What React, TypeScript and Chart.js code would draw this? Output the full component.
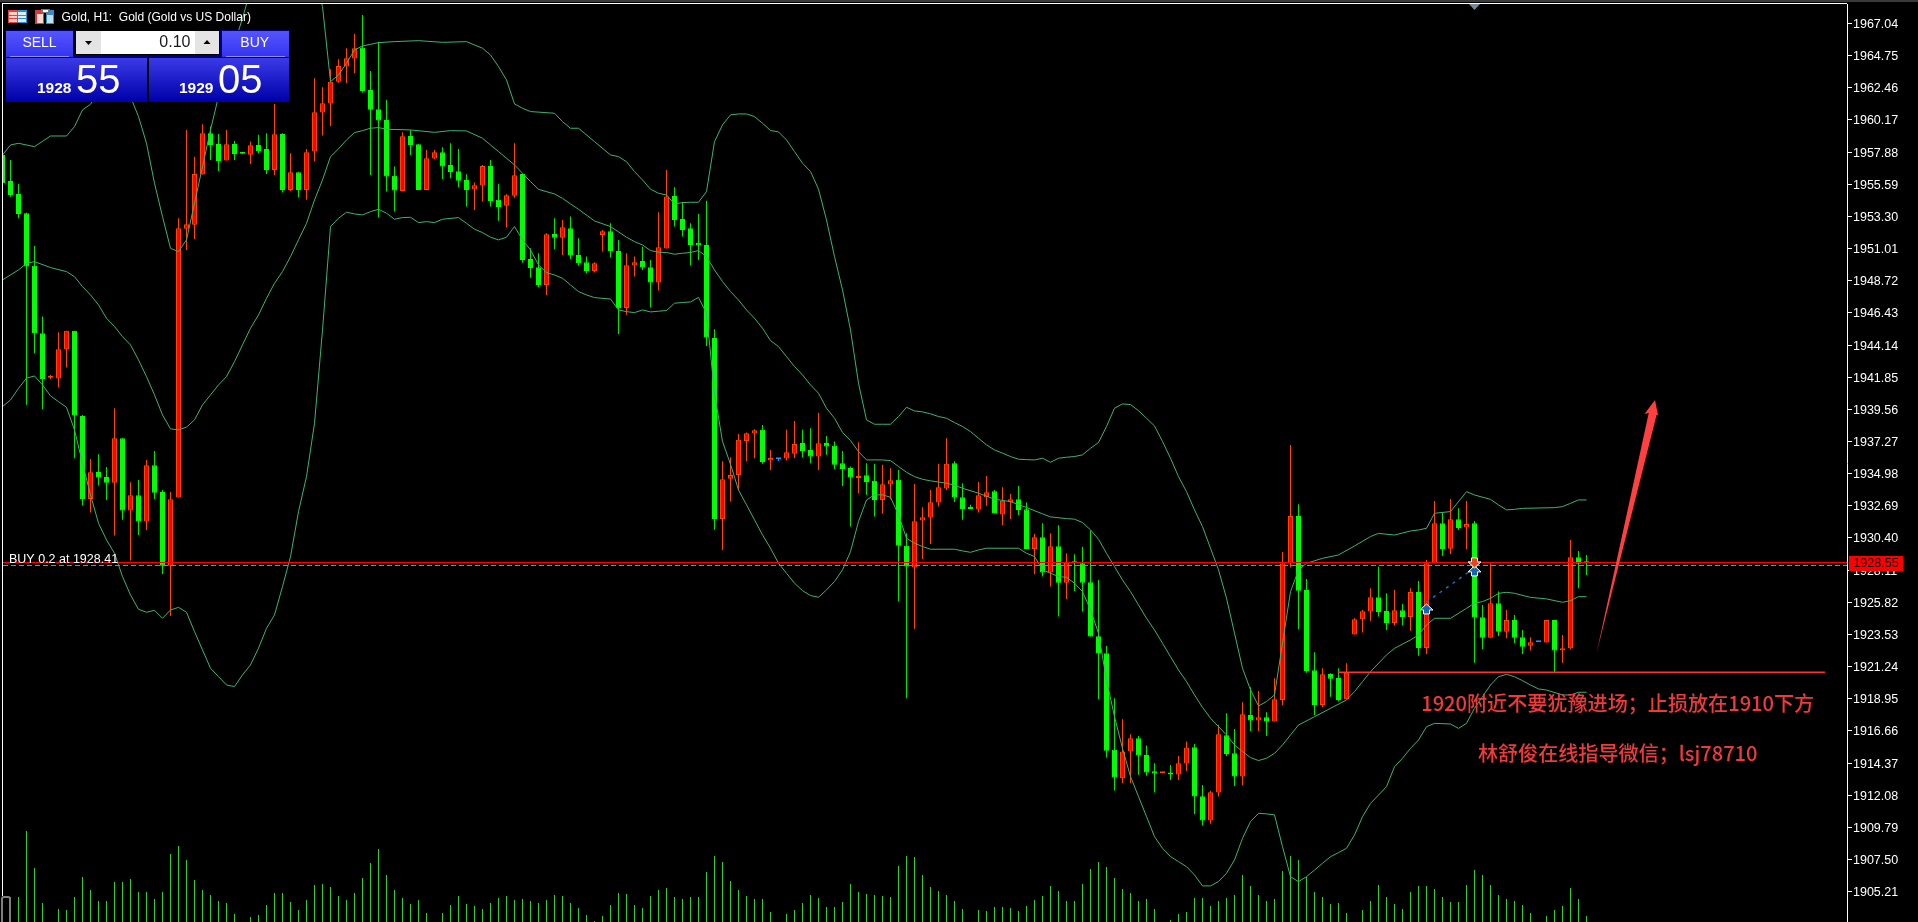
import React, { useEffect, useRef } from "react";
import { Chart, registerables } from "chart.js";

Chart.register(...registerables);

const opens = [
  1957.68,1955.83,1954.90,1953.53,1949.78,1944.98,1941.82,1941.75,1943.84,1945.15,
  1939.09,1933.18,1935.10,1934.75,1934.34,1937.50,1932.35,1933.44,1931.57,1935.58,
  1933.68,1928.43,1933.28,1952.43,1952.70,1956.28,1959.22,1958.46,1957.28,1958.46,
  1957.82,1957.70,1958.39,1958.11,1956.61,1959.18,1955.19,1956.45,1955.19,1957.92,
  1960.70,1961.34,1962.90,1963.97,1964.54,1965.33,1962.31,1960.93,1960.17,1956.19,
  1955.12,1959.03,1958.44,1955.19,1957.42,1957.87,1956.97,1956.52,1955.90,1955.21,
  1955.50,1956.90,1954.48,1954.07,1954.78,1956.33,1950.27,1949.68,1948.42,1952.05,
  1951.79,1952.46,1950.56,1950.04,1949.42,1951.98,1952.24,1950.84,1946.78,1949.80,
  1950.13,1949.68,1948.59,1951.01,1954.76,1953.12,1952.46,1951.42,1951.27,1944.65,
  1931.76,1934.61,1934.89,1937.31,1937.84,1938.10,1935.91,1936.01,1936.06,1936.39,
  1937.17,1936.67,1936.20,1937.17,1936.96,1935.72,1935.39,1934.68,1934.87,1934.47,
  1933.11,1934.20,1934.54,1929.84,1928.29,1931.64,1931.85,1932.92,1933.92,1935.72,
  1933.30,1932.57,1932.42,1933.30,1933.73,1932.07,1932.97,1933.16,1932.45,1929.62,
  1930.45,1927.94,1929.81,1927.22,1928.67,1928.60,1927.25,1923.40,1922.19,1915.31,
  1913.29,1915.19,1916.14,1914.95,1913.79,1913.64,1913.60,1913.55,1914.33,1915.50,
  1912.01,1910.27,1912.27,1916.35,1915.07,1913.41,1917.80,1917.40,1917.63,1917.33,
  1918.86,1928.60,1931.97,1926.70,1920.98,1918.51,1920.72,1920.43,1918.91,1923.52,
  1924.61,1925.16,1926.18,1925.20,1924.35,1925.25,1924.78,1926.56,1922.57,1928.60,
  1931.45,1929.64,1931.73,1931.14,1931.45,1924.75,1923.30,1925.75,1923.73,1924.56,
  1923.33,1922.73,1922.97,1922.95,1924.56,1922.38,1922.54,1929.02,1928.67,
];

const closes = [
  1955.66,1954.83,1953.48,1949.73,1944.98,1941.73,1941.92,1943.84,1945.15,1939.12,
  1933.18,1935.08,1934.70,1934.34,1937.50,1932.35,1933.44,1931.57,1935.58,1933.63,
  1928.43,1933.16,1952.46,1952.74,1956.33,1959.22,1958.39,1957.25,1958.44,1957.75,
  1957.77,1958.37,1957.94,1956.61,1959.15,1955.19,1956.45,1955.19,1957.87,1960.72,
  1961.36,1962.90,1964.02,1964.57,1965.28,1962.24,1960.89,1960.13,1956.14,1955.14,
  1959.01,1958.39,1955.19,1957.44,1957.87,1956.85,1956.47,1955.85,1955.19,1955.52,
  1956.90,1954.40,1953.98,1954.81,1956.23,1950.20,1949.63,1948.42,1952.03,1951.79,
  1952.53,1950.51,1949.97,1949.42,1949.97,1952.24,1950.84,1946.76,1949.82,1950.04,
  1949.66,1948.59,1951.11,1954.72,1953.05,1952.34,1951.27,1951.23,1944.67,1931.76,
  1934.58,1934.89,1937.39,1937.86,1938.07,1935.82,1936.10,1936.01,1936.51,1937.10,
  1936.60,1936.20,1937.15,1936.91,1935.61,1935.32,1934.70,1934.82,1934.39,1933.11,
  1934.23,1934.51,1929.84,1928.36,1931.59,1931.88,1932.95,1934.01,1935.68,1933.28,
  1932.47,1932.47,1933.44,1933.66,1932.14,1933.06,1933.16,1932.40,1929.62,1930.45,
  1927.94,1929.81,1927.22,1928.67,1928.60,1927.22,1923.38,1922.17,1915.24,1913.34,
  1915.19,1916.14,1914.90,1913.69,1913.62,1913.69,1913.55,1914.36,1915.47,1911.98,
  1910.27,1912.29,1916.42,1915.02,1913.41,1917.85,1917.40,1917.63,1917.33,1918.92,
  1928.60,1931.97,1926.65,1920.93,1918.51,1920.69,1920.38,1918.86,1920.81,1924.61,
  1925.18,1926.18,1925.13,1924.35,1925.25,1924.78,1926.56,1922.57,1928.60,1931.45,
  1929.62,1931.73,1931.11,1931.40,1924.73,1923.30,1925.75,1923.73,1924.56,1923.30,
  1922.66,1922.97,1922.97,1924.56,1922.38,1922.54,1929.02,1928.57,1928.60,
];

const highs = [
  1957.68,1957.32,1955.62,1953.57,1951.20,1946.17,1942.01,1945.05,1945.15,1945.15,
  1939.16,1936.03,1936.36,1935.46,1939.64,1937.50,1934.37,1934.53,1935.96,1936.60,
  1933.82,1933.68,1953.17,1959.46,1957.56,1959.87,1959.70,1959.18,1959.46,1958.68,
  1957.89,1958.63,1959.11,1959.22,1961.31,1959.22,1957.80,1956.45,1958.11,1963.14,
  1962.50,1963.78,1964.49,1965.28,1966.30,1967.65,1963.66,1965.75,1961.60,1956.85,
  1959.30,1959.46,1958.44,1958.04,1958.04,1958.23,1958.51,1958.11,1956.30,1955.71,
  1956.97,1957.32,1955.62,1954.88,1958.51,1956.33,1951.03,1950.68,1952.10,1953.17,
  1953.05,1953.29,1951.75,1950.44,1950.04,1952.34,1952.81,1951.63,1950.68,1950.44,
  1951.15,1950.20,1953.60,1956.61,1955.38,1954.31,1952.82,1953.48,1954.41,1945.27,
  1935.87,1936.15,1937.81,1937.91,1938.14,1938.45,1936.67,1936.03,1938.10,1938.74,
  1938.10,1938.22,1939.31,1937.67,1937.27,1936.60,1935.49,1937.22,1935.72,1935.68,
  1935.61,1935.37,1935.25,1930.74,1934.25,1932.59,1933.82,1935.68,1937.50,1935.87,
  1934.30,1932.76,1934.39,1934.82,1933.82,1934.01,1933.54,1934.11,1932.92,1930.69,
  1931.45,1930.74,1931.31,1929.31,1929.24,1929.77,1930.93,1927.41,1922.71,1918.99,
  1917.49,1916.42,1916.30,1915.62,1914.36,1913.74,1914.24,1914.88,1915.90,1915.73,
  1912.81,1912.39,1917.09,1917.92,1916.80,1918.70,1919.77,1919.51,1917.99,1920.41,
  1929.40,1937.03,1932.80,1927.48,1922.26,1921.12,1920.76,1921.12,1921.48,1924.68,
  1925.27,1926.82,1928.36,1926.46,1926.70,1925.70,1926.82,1927.34,1928.83,1933.04,
  1932.23,1933.18,1932.51,1933.04,1931.61,1925.63,1928.60,1926.58,1925.27,1924.92,
  1923.85,1923.33,1922.97,1924.56,1924.56,1923.49,1930.26,1929.48,1929.19,
];

const lows = [
  1955.66,1954.71,1953.17,1939.88,1943.56,1939.57,1941.73,1941.11,1942.54,1936.08,
  1932.71,1932.21,1934.13,1933.11,1930.57,1931.69,1928.79,1930.62,1930.97,1933.18,
  1927.84,1924.85,1933.28,1950.91,1951.70,1956.28,1957.32,1956.54,1957.28,1957.32,
  1957.75,1957.04,1957.80,1956.33,1956.26,1955.00,1955.09,1954.67,1954.48,1957.21,
  1959.06,1959.75,1962.83,1962.78,1963.50,1962.12,1956.26,1953.22,1955.07,1953.65,
  1955.07,1957.68,1955.19,1955.19,1957.37,1955.97,1956.02,1955.38,1954.00,1953.76,
  1954.36,1954.00,1953.00,1952.51,1954.64,1950.01,1948.94,1948.26,1947.71,1950.96,
  1950.56,1950.27,1949.78,1949.25,1949.30,1950.80,1950.37,1944.93,1946.29,1949.02,
  1949.49,1946.81,1948.02,1951.01,1952.58,1951.87,1949.80,1950.20,1944.08,1930.98,
  1929.55,1932.99,1933.82,1935.89,1936.08,1935.68,1935.25,1935.89,1935.91,1936.10,
  1936.13,1935.72,1935.25,1936.32,1935.32,1934.11,1931.21,1933.59,1933.47,1931.93,
  1932.12,1933.16,1925.87,1918.99,1923.93,1928.91,1929.98,1932.64,1933.82,1932.97,
  1931.69,1932.47,1932.21,1932.69,1932.14,1931.33,1931.76,1932.04,1929.62,1927.84,
  1927.65,1926.94,1924.80,1926.06,1926.63,1925.16,1923.38,1918.92,1914.76,1912.41,
  1912.93,1912.93,1913.53,1913.46,1912.27,1913.64,1913.17,1913.17,1913.81,1910.75,
  1909.92,1910.04,1911.98,1914.88,1912.74,1912.81,1916.66,1916.66,1916.30,1917.33,
  1918.51,1928.29,1923.92,1920.81,1917.80,1918.34,1919.10,1918.75,1918.91,1923.52,
  1923.66,1924.51,1924.80,1923.85,1924.16,1924.18,1923.80,1922.02,1922.14,1928.60,
  1929.14,1929.26,1930.97,1929.62,1921.52,1922.50,1923.30,1923.42,1923.26,1922.90,
  1922.14,1922.38,1922.97,1922.95,1920.83,1921.52,1922.47,1926.82,1927.77,
];

const volumes = [
  0,250,250,910,540,190,0,130,120,250,
  450,320,210,210,400,400,430,300,300,230,
  300,680,760,620,420,320,270,210,190,80,
  0,50,70,170,290,290,200,120,220,370,
  380,350,260,220,290,440,590,730,470,320,
  240,180,220,90,0,90,170,260,180,160,
  130,190,240,260,220,230,210,190,220,270,
  260,190,140,70,10,60,170,290,280,170,
  140,260,320,340,250,230,250,250,500,660,
  600,410,320,260,230,230,100,0,80,120,
  190,270,240,150,150,200,380,300,280,270,
  260,250,560,660,650,470,350,310,270,210,
  130,0,120,110,150,150,140,110,160,220,
  260,360,310,210,210,380,530,600,550,440,
  330,290,210,230,130,0,20,80,100,240,
  240,160,210,240,270,470,360,270,210,230,
  510,660,620,450,300,250,180,190,90,0,
  120,210,370,250,180,130,300,360,360,330,
  250,200,200,370,520,470,370,270,230,210,
  170,90,0,60,120,160,340,230,60,
];

const upperBand = [
  [0,1957.68],[1,1958.39],[2,1958.51],[4,1958.27],[6,1959.03],[8,1959.03],[9,1959.7],[10,1960.89],[11,1961.29],[13,1963.02],
  [16,1961.83],[17,1960.41],[18,1958.51],[19,1955.66],[20,1953.29],[21,1951.03],[22,1950.79],[23,1951.63],[24,1954.24],[25,1956.85],
  [26,1959.46],[27,1961.84],[28,1963.85],[29,1965.63],[30,1967.41],[31,1969.43],[35,1975],[38,1975],[39,1970.14],[40,1968.25],
  [41,1962.9],[42,1963.38],[43,1964.21],[44,1965.16],[45,1965.44],[46,1965.56],[47,1965.68],[49,1965.75],[52,1965.82],[55,1965.7],
  [58,1965.75],[60,1965.28],[61,1964.8],[62,1963.97],[63,1963.02],[64,1961.31],[65,1961.0],[66,1960.77],[69,1960.65],[70,1960.05],
  [71,1959.58],[72,1959.58],[74,1958.63],[76,1957.68],[77,1957.56],[78,1957.2],[79,1956.49],[80,1955.9],[81,1955.24],[82,1954.95],
  [83,1954.83],[84,1954.19],[85,1954.29],[86,1954.31],[87,1954.31],[88,1955.07],[89,1958.63],[90,1959.82],[91,1960.53],[92,1960.6],
  [93,1960.6],[94,1960.41],[95,1959.94],[96,1959.42],[97,1959.32],[98,1958.75],[99,1957.92],[100,1957.09],[101,1956.5],[102,1955.24],
  [103,1953.05],[104,1950.44],[105,1948.07],[106,1945.22],[107,1941.42],[108,1938.81],[109,1938.5],[110,1938.5],[111,1938.5],[112,1939.05],
  [113,1939.71],[114,1939.45],[115,1939.38],[116,1939.24],[117,1939.05],[118,1938.93],[119,1938.62],[120,1938.34],[121,1937.98],[122,1937.5],
  [123,1937.03],[124,1936.67],[125,1936.44],[126,1936.2],[127,1936.01],[128,1935.98],[129,1935.96],[130,1936.08],[131,1935.79],[132,1936.08],
  [133,1936.15],[134,1936.2],[135,1936.32],[136,1936.79],[137,1937.2],[138,1938.34],[139,1939.64],[140,1939.95],[141,1939.9],[142,1939.47],
  [143,1938.93],[144,1938.38],[145,1937.27],[146,1936.08],[147,1934.77],[148,1933.7],[149,1932.4],[150,1931.21],[151,1929.67],[152,1928.13],
  [153,1926.11],[154,1923.62],[155,1921.12],[156,1919.58],[157,1918.44],[158,1918.75],[159,1919.22],[160,1922.9],[161,1926.58],[162,1928.12],
  [163,1928.6],[165,1928.95],[167,1929.19],[169,1929.83],[171,1930.5],[172,1930.73],[174,1930.61],[176,1930.9],[177,1930.97],[178,1931.09],
  [179,1932.16],[181,1932.28],[183,1933.7],[184,1933.46],[186,1933.15],[187,1932.75],[188,1932.4],[189,1932.44],[190,1932.51],[194,1932.56],
  [195,1932.63],[196,1932.87],[197,1933.11],[198,1933.11],
];

const middleBand = [
  [0,1948.78],[2,1949.49],[3,1949.96],[4,1950.08],[6,1949.66],[8,1949.37],[9,1949.01],[10,1948.3],[11,1947.71],[12,1947.0],
  [13,1946.05],[14,1945.46],[15,1944.74],[16,1944.15],[17,1943.08],[18,1941.89],[19,1940.59],[20,1939.16],[21,1938.17],[22,1938.1],
  [23,1938.29],[24,1938.81],[25,1939.88],[26,1940.59],[27,1941.3],[28,1941.89],[29,1942.96],[30,1944.15],[31,1945.34],[32,1946.28],
  [33,1947.47],[34,1948.54],[35,1949.37],[36,1950.44],[37,1951.63],[38,1952.81],[39,1954.47],[40,1955.9],[41,1957.56],[42,1958.11],
  [43,1958.75],[44,1959.27],[45,1959.41],[46,1959.58],[47,1959.63],[48,1959.51],[51,1959.46],[54,1959.29],[56,1959.41],[58,1959.39],
  [60,1958.87],[61,1958.39],[62,1957.92],[64,1956.97],[66,1955.78],[67,1955.23],[69,1954.9],[70,1954.59],[71,1954.19],[72,1953.81],
  [74,1952.98],[76,1952.58],[78,1951.82],[79,1951.51],[80,1951.27],[81,1950.87],[82,1950.75],[83,1950.73],[84,1950.61],[85,1950.68],
  [86,1950.73],[87,1950.87],[88,1950.44],[89,1949.49],[90,1948.66],[91,1947.95],[92,1947.35],[93,1946.64],[94,1946.05],[95,1945.34],
  [96,1944.46],[97,1944.03],[98,1943.32],[99,1942.61],[100,1942.01],[101,1941.3],[102,1940.71],[103,1939.64],[104,1938.93],[105,1937.91],
  [106,1937.34],[107,1936.55],[108,1935.96],[110,1935.96],[111,1935.91],[112,1935.49],[113,1935.08],[114,1934.77],[115,1934.58],[116,1934.47],
  [118,1934.3],[119,1934.16],[120,1933.94],[122,1933.59],[124,1933.16],[126,1932.99],[128,1932.57],[130,1932.12],[131,1931.9],[133,1931.78],
  [134,1931.74],[135,1931.5],[136,1930.98],[137,1930.31],[138,1929.31],[139,1928.36],[140,1927.41],[141,1926.58],[142,1925.63],[143,1924.68],
  [144,1923.85],[145,1922.9],[146,1921.95],[147,1921.0],[148,1920.17],[149,1919.22],[150,1918.34],[151,1917.56],[152,1916.97],[153,1916.37],
  [154,1915.66],[155,1915.19],[156,1914.76],[157,1914.55],[158,1914.71],[159,1915.06],[160,1915.66],[161,1916.37],[162,1917.08],[164,1917.67],
  [166,1918.27],[168,1918.86],[169,1919.46],[170,1920.17],[171,1920.88],[173,1922.07],[174,1922.54],[176,1923.14],[177,1923.49],[178,1924.2],
  [179,1924.68],[181,1924.68],[183,1925.39],[184,1925.75],[185,1925.87],[186,1926.1],[187,1926.46],[188,1926.53],[189,1926.46],[191,1926.17],
  [193,1926.06],[195,1925.82],[196,1925.94],[197,1926.22],[198,1926.22],
];

const lowerBand = [
  [0,1939.76],[1,1940.23],[2,1941.06],[3,1941.78],[4,1941.94],[5,1941.3],[6,1940.52],[7,1940.11],[8,1939.71],[9,1938.1],
  [10,1935.72],[11,1933.47],[12,1931.45],[13,1930.26],[14,1929.31],[15,1927.65],[16,1926.34],[17,1925.32],[18,1925.11],[19,1925.25],
  [20,1924.68],[21,1925.27],[22,1925.46],[23,1925.11],[24,1923.73],[25,1922.43],[26,1921.12],[27,1920.53],[28,1919.93],[29,1919.82],
  [30,1920.65],[31,1921.36],[32,1922.55],[33,1923.97],[34,1924.92],[35,1926.94],[36,1929.07],[37,1932.28],[38,1934.77],[39,1938.57],
  [40,1945.2],[41,1952.58],[42,1953.17],[43,1953.6],[44,1953.48],[45,1953.41],[46,1953.64],[47,1953.81],[48,1953.53],[49,1953.1],
  [50,1953.22],[51,1953.24],[52,1952.86],[53,1952.93],[54,1952.86],[55,1953.1],[57,1953.22],[58,1952.81],[59,1952.39],[60,1952.15],
  [61,1951.82],[62,1951.63],[63,1951.82],[64,1952.58],[65,1951.63],[66,1950.91],[67,1949.85],[68,1949.3],[69,1949.13],[70,1948.9],
  [71,1948.42],[72,1947.95],[73,1947.71],[74,1947.52],[76,1947.42],[77,1946.64],[78,1946.52],[79,1946.45],[80,1946.64],[81,1946.5],
  [82,1946.55],[83,1946.6],[84,1947.12],[85,1947.17],[86,1947.21],[87,1947.54],[88,1946.4],[89,1940.71],[90,1937.27],[91,1935.65],
  [92,1933.82],[93,1932.76],[94,1931.69],[95,1930.62],[96,1929.67],[97,1928.6],[98,1927.89],[99,1927.18],[100,1926.65],[101,1926.3],
  [102,1926.18],[103,1926.7],[104,1927.3],[105,1928.13],[106,1929.43],[107,1931.57],[108,1933.11],[109,1933.47],[110,1933.47],[111,1933.3],
  [112,1932.04],[113,1930.38],[114,1930.03],[115,1929.79],[116,1929.6],[119,1929.6],[120,1929.48],[121,1929.38],[122,1929.55],[123,1929.67],
  [127,1929.67],[128,1929.31],[129,1929.08],[130,1928.13],[131,1927.89],[132,1927.65],[133,1927.6],[134,1927.18],[135,1926.58],[136,1925.28],
  [137,1923.61],[138,1920.29],[139,1917.68],[140,1915.42],[141,1913.41],[142,1911.98],[143,1910.56],[144,1909.13],[145,1908.3],[146,1907.71],
  [147,1907.35],[148,1906.99],[149,1906.4],[150,1905.62],[151,1905.62],[152,1905.93],[153,1906.52],[154,1907.47],[155,1909.01],[156,1910.2],
  [157,1910.79],[158,1910.75],[159,1910.68],[160,1908.42],[161,1906.28],[162,1905.92],[163,1906.28],[164,1906.75],[165,1907.23],[166,1907.7],
  [167,1907.99],[168,1908.3],[169,1909.25],[170,1910.55],[171,1911.5],[172,1912.09],[173,1912.69],[174,1914.11],[175,1914.71],[176,1915.42],
  [177,1916.01],[178,1916.96],[179,1917.2],[181,1917.15],[182,1916.84],[183,1917.2],[184,1918.27],[185,1919.1],[186,1919.93],[187,1920.52],
  [188,1920.69],[189,1920.52],[190,1920.24],[191,1919.93],[192,1919.65],[193,1919.57],[195,1919.22],[196,1919.22],[197,1919.41],[198,1919.41],
];

const yTickValues = [
  1967.04,1964.75,1962.46,1960.17,1957.88,1955.59,1953.30,1951.01,1948.72,1946.43,1944.14,1941.85,1939.56,1937.27,
  1934.98,1932.69,1930.40,1928.11,1925.82,1923.53,1921.24,1918.95,1916.66,1914.37,1912.08,1909.79,1907.50,1905.21,
];

const bidPrice = 1928.55;
const positionPrice = 1928.41;
const positionLabel = "BUY 0.2 at 1928.41";
const supportPrice = 1920.84;
const supportFrom = 166.9;
const supportTo = 227.8;
const noteCentre = 201.9;
const noteLines: [string, number][] = [
  ["1920附近不要犹豫进场；止损放在1910下方", 1918.65],
  ["林舒俊在线指导微信；lsj78710", 1915.09],
];
const tradeUp: [number, number][] = [[178, 1925.7], [184, 1928.41]];
const tradeDown: [number, number] = [184, 1928.27];
const bigArrow: [number, number][] = [
  [199.25, 1922.19], [205.78, 1939.3], [205.25, 1939.23], [206.56, 1940.23], [206.94, 1939.16], [206.76, 1939.16],
];
const chartTitle = "Gold, H1:  Gold (Gold vs US Dollar)";
const sellBig = "55";
const sellSmall = "1928";
const buyBig = "05";
const buySmall = "1929";
const lotSize = "0.10";

const RED = "#FF0000";
const RED_EDGE = "#FF4500";
const GREEN = "#00FF00";
const GREEN_WICK = "#00E600";
const BLUE_DOJI = "#1E90FF";
const BAND = "#3CB371";
const VOLUME = "#32CD32";
const UI_FONT = '"Liberation Sans"';

const candleColor = (i: number, up: string, down: string) =>
  closes[i] > opens[i] ? up : closes[i] < opens[i] ? down : BLUE_DOJI;

function drawTradeArrow(ctx: CanvasRenderingContext2D, x: number, tip: number, dir: 1 | -1, fill: string) {
  const h = 10;
  ctx.beginPath();
  ctx.moveTo(x, tip);
  ctx.lineTo(x + 6.5, tip + dir * 6);
  ctx.lineTo(x + 3, tip + dir * 6);
  ctx.lineTo(x + 3, tip + dir * h);
  ctx.lineTo(x - 3, tip + dir * h);
  ctx.lineTo(x - 3, tip + dir * 6);
  ctx.lineTo(x - 6.5, tip + dir * 6);
  ctx.closePath();
  ctx.fillStyle = fill;
  ctx.fill();
  ctx.lineWidth = 1;
  ctx.strokeStyle = "#FFFFFF";
  ctx.stroke();
}

const overlay = {
  id: "overlay",
  beforeDraw(chart: any) {
    const { ctx, width, height } = chart;
    ctx.save();
    ctx.fillStyle = "#000000";
    ctx.fillRect(0, 0, width, height);
    ctx.fillStyle = "#3A3A3A";
    ctx.fillRect(0, 0, width, 2);
    ctx.restore();
  },
  afterDatasetsDraw(chart: any) {
    const { ctx, chartArea: a } = chart;
    const X = chart.scales.x;
    const Y = chart.scales.y;
    const px = (i: number) => X.getPixelForValue(i);
    const py = (p: number) => Y.getPixelForValue(p);
    ctx.save();
    ctx.beginPath();
    ctx.rect(a.left, a.top, a.right - a.left, a.bottom - a.top);
    ctx.clip();

    ctx.lineWidth = 1;
    ctx.strokeStyle = "#3CB371";
    ctx.setLineDash([5, 3]);
    const posY = Math.floor(py(positionPrice)) + 0.5;
    ctx.beginPath();
    ctx.moveTo(a.left, posY);
    ctx.lineTo(a.right, posY);
    ctx.stroke();
    ctx.setLineDash([]);
    ctx.strokeStyle = "#FF0000";
    const bidY = Math.floor(py(bidPrice)) - 0.5;
    ctx.beginPath();
    ctx.moveTo(a.left, bidY);
    ctx.lineTo(a.right, bidY);
    ctx.stroke();

    ctx.fillStyle = "#FFFFFF";
    ctx.font = `12.5px ${UI_FONT}`;
    ctx.textAlign = "left";
    ctx.textBaseline = "alphabetic";
    ctx.fillText(positionLabel, 9, posY - 3);

    ctx.strokeStyle = "#FF3030";
    ctx.lineWidth = 1.4;
    const sy = py(supportPrice);
    ctx.beginPath();
    ctx.moveTo(px(supportFrom), sy);
    ctx.lineTo(px(supportTo), sy);
    ctx.stroke();

    ctx.strokeStyle = "#1E6FD0";
    ctx.lineWidth = 1.4;
    ctx.setLineDash([3, 5]);
    ctx.beginPath();
    ctx.moveTo(px(tradeUp[0][0]), py(tradeUp[0][1]) - 2);
    ctx.lineTo(px(tradeUp[1][0]), py(tradeUp[1][1]) + 2);
    ctx.stroke();
    ctx.setLineDash([]);
    tradeUp.forEach(([i, p]) => drawTradeArrow(ctx, px(i), py(p), 1, "#1565B0"));
    drawTradeArrow(ctx, px(tradeDown[0]), py(tradeDown[1]), -1, "#E8431F");

    ctx.fillStyle = "#FF4040";
    ctx.beginPath();
    bigArrow.forEach(([i, p], k) => (k ? ctx.lineTo(px(i), py(p)) : ctx.moveTo(px(i), py(p))));
    ctx.closePath();
    ctx.fill();

    ctx.fillStyle = "#F03A3A";
    ctx.font = '500 20.1px "Noto Sans CJK SC"';
    ctx.textAlign = "center";
    ctx.textBaseline = "middle";
    noteLines.forEach(([t, p]) => ctx.fillText(t, px(noteCentre), py(p)));
    ctx.restore();
  },
  afterDraw(chart: any) {
    const { ctx, chartArea: a, width } = chart;
    const Y = chart.scales.y;
    ctx.save();
    ctx.fillStyle = "#FFFFFF";
    ctx.fillRect(2, 3, width - 2 - (width - a.right), 1);
    ctx.fillRect(2, 3, 1, 893);
    ctx.fillStyle = "#778899";
    ctx.beginPath();
    ctx.moveTo(1469, 4);
    ctx.lineTo(1480, 4);
    ctx.lineTo(1474.5, 10);
    ctx.closePath();
    ctx.fill();
    ctx.strokeStyle = "#808080";
    ctx.lineWidth = 2;
    ctx.beginPath();
    ctx.moveTo(2, 922);
    ctx.lineTo(2, 899);
    ctx.quadraticCurveTo(2, 897, 4, 897);
    ctx.lineTo(8, 897);
    ctx.quadraticCurveTo(10, 897, 10, 899);
    ctx.lineTo(10, 922);
    ctx.stroke();

    const tagY = Y.getPixelForValue(bidPrice);
    ctx.fillStyle = "#FF0000";
    ctx.fillRect(1849, Math.round(tagY) - 8, 54, 15);
    ctx.fillStyle = "#000000";
    ctx.font = `12.5px ${UI_FONT}`;
    ctx.textAlign = "center";
    ctx.textBaseline = "middle";
    ctx.fillText(bidPrice.toFixed(2), 1876, Math.round(tagY));

    ctx.fillStyle = "#E84040";
    ctx.fillRect(8, 10, 19, 13);
    ctx.fillStyle = "#FFD0C8";
    ctx.fillRect(9, 12, 8, 3);
    ctx.fillRect(9, 16, 8, 2);
    ctx.fillRect(9, 19, 8, 3);
    ctx.fillStyle = "#2F8FD0";
    ctx.fillRect(18, 10, 9, 13);
    ctx.fillStyle = "#D8EEFA";
    ctx.fillRect(18, 12, 8, 3);
    ctx.fillRect(18, 16, 8, 2);
    ctx.fillRect(18, 19, 8, 3);
    ctx.fillStyle = "#D83A3A";
    ctx.fillRect(35, 10, 9, 14);
    ctx.fillStyle = "#FFD8D0";
    ctx.fillRect(37, 14, 6, 9);
    ctx.fillStyle = "#2F8FD0";
    ctx.fillRect(46, 10, 8, 14);
    ctx.fillStyle = "#BFE2F8";
    ctx.fillRect(47, 15, 6, 8);
    ctx.fillStyle = "#777777";
    ctx.fillRect(41, 9, 9, 4);
    ctx.fillStyle = "#FFFFFF";
    ctx.fillRect(43, 10, 5, 2);

    ctx.fillStyle = "#FFFFFF";
    ctx.font = `12px ${UI_FONT}`;
    ctx.textAlign = "left";
    ctx.textBaseline = "middle";
    ctx.fillText(chartTitle, 61.5, 17.5);

    const vgrad = (y0: number, y1: number, c0: string, c1: string) => {
      const g = ctx.createLinearGradient(0, y0, 0, y1);
      g.addColorStop(0, c0);
      g.addColorStop(1, c1);
      return g;
    };
    ctx.fillStyle = "#00007A";
    ctx.fillRect(6, 30, 283, 72);
    ctx.fillStyle = "#000000";
    ctx.fillRect(147, 57, 2, 45);
    const button = (x: number, w: number, label: string, cx: number) => {
      ctx.fillStyle = vgrad(31, 56, "#5555FF", "#3535F0");
      ctx.fillRect(x, 31, w, 26);
      ctx.fillStyle = "#8C8CFF";
      ctx.fillRect(x + 4, 56, w - 8, 1);
      ctx.fillStyle = "#FFFFFF";
      ctx.font = `14px ${UI_FONT}`;
      ctx.textAlign = "center";
      ctx.textBaseline = "middle";
      ctx.fillText(label, cx, 43.5);
    };
    button(6, 67, "SELL", 39.5);
    button(222, 67, "BUY", 254.7);

    const quote = (x: number, w: number, small: string, big: string, sx: number, bx: number) => {
      ctx.fillStyle = vgrad(58, 102, "#3A3AE8", "#0000A8");
      ctx.fillRect(x, 58, w, 44);
      ctx.fillStyle = "#FFFFFF";
      ctx.textAlign = "left";
      ctx.textBaseline = "alphabetic";
      ctx.font = `bold 15.5px ${UI_FONT}`;
      ctx.fillText(small, sx, 93);
      ctx.font = `40px ${UI_FONT}`;
      ctx.fillText(big, bx, 93);
    };
    quote(6, 141, sellSmall, sellBig, 37, 76);
    quote(149, 140, buySmall, buyBig, 179, 218);

    ctx.fillStyle = "#000000";
    ctx.fillRect(74, 30, 146, 25);
    ctx.fillStyle = "#E4E4E4";
    ctx.fillRect(76, 31, 25, 23);
    ctx.fillRect(195, 31, 24, 23);
    ctx.fillStyle = "#FFFFFF";
    ctx.fillRect(101, 31, 94, 23);
    ctx.fillStyle = "#000000";
    ctx.beginPath();
    ctx.moveTo(85, 41);
    ctx.lineTo(92, 41);
    ctx.lineTo(88.5, 45);
    ctx.closePath();
    ctx.moveTo(203.5, 44);
    ctx.lineTo(210.5, 44);
    ctx.lineTo(207, 40);
    ctx.closePath();
    ctx.fill();
    ctx.fillStyle = "#1A1A1A";
    ctx.font = `16px ${UI_FONT}`;
    ctx.textAlign = "right";
    ctx.textBaseline = "middle";
    ctx.fillText(lotSize, 190.5, 43);
    ctx.restore();
  },
};

export default function App() {
  const ref = useRef<HTMLCanvasElement>(null);
  useEffect(() => {
    document.body.style.margin = "0";
    document.body.style.background = "#000";
    const idx = opens.map((_, i) => i);
    const toPts = (rows: number[][]) => rows.map(([x, y]) => ({ x, y }));
    const bandSet = (data: number[][]) => ({
      type: "line" as const,
      data: toPts(data),
      borderColor: BAND,
      borderWidth: 1,
      pointRadius: 0,
      tension: 0,
      fill: false,
      xAxisID: "x",
      yAxisID: "y",
      order: 0,
    });
    const chart = new Chart(ref.current as HTMLCanvasElement, {
      type: "bar",
      data: {
        datasets: [
          bandSet(upperBand),
          bandSet(middleBand),
          bandSet(lowerBand),
          {
            data: idx.map((i) => ({ x: i, y: [Math.min(opens[i], closes[i]), Math.max(opens[i], closes[i])] })),
            backgroundColor: (c: any) => candleColor(c.dataIndex, RED, GREEN),
            borderColor: (c: any) => candleColor(c.dataIndex, RED_EDGE, GREEN),
            borderWidth: 1,
            borderSkipped: false,
            inflateAmount: 0,
            barThickness: 5,
            minBarLength: 2,
            grouped: false,
            xAxisID: "x",
            yAxisID: "y",
            order: 1,
          },
          {
            data: idx.map((i) => ({ x: i, y: [lows[i], highs[i]] })),
            backgroundColor: (c: any) => candleColor(c.dataIndex, RED_EDGE, GREEN_WICK),
            borderWidth: 0,
            inflateAmount: 0,
            barThickness: 1,
            grouped: false,
            xAxisID: "x",
            yAxisID: "y",
            order: 2,
          },
          {
            data: idx.map((i) => ({ x: i, y: volumes[i] })),
            backgroundColor: VOLUME,
            borderWidth: 0,
            inflateAmount: 0,
            barThickness: 1,
            grouped: false,
            xAxisID: "x",
            yAxisID: "yv",
            order: 3,
          },
        ] as any,
      },
      options: {
        responsive: false,
        animation: false,
        events: [],
        layout: { padding: { left: 3, top: 4, right: 0, bottom: 0 } },
        plugins: { legend: { display: false }, tooltip: { enabled: false }, title: { display: false } },
        scales: {
          x: { type: "linear", min: 0.0625, max: 230.5625, display: false, offset: false },
          y: {
            type: "linear",
            position: "right",
            min: 1903.05,
            max: 1968.43,
            afterFit: (s: any) => {
              s.width = 71;
              s.paddingTop = 0;
              s.paddingBottom = 0;
            },
            afterBuildTicks: (s: any) => {
              s.ticks = yTickValues.map((value) => ({ value }));
            },
            grid: { drawOnChartArea: false, drawTicks: true, tickLength: 5, tickColor: "#FFFFFF", tickWidth: 1 },
            border: { display: true, color: "#FFFFFF", width: 1 },
            ticks: {
              color: "#FFFFFF",
              padding: 1,
              labelOffset: 1,
              autoSkip: false,
              maxRotation: 0,
              font: { family: "Liberation Sans", size: 12.5 },
              callback: (v: any) => Number(v).toFixed(2),
            },
          },
          yv: { type: "linear", min: 0, max: 9180, display: false },
        },
      } as any,
      plugins: [overlay],
    });
    return () => chart.destroy();
  }, []);
  return (
    <div style={{ position: "fixed", left: 0, top: 0, width: 1918, height: 922, background: "#000" }}>
      <canvas ref={ref} width={1918} height={922} style={{ display: "block", width: 1918, height: 922 }} />
    </div>
  );
}
